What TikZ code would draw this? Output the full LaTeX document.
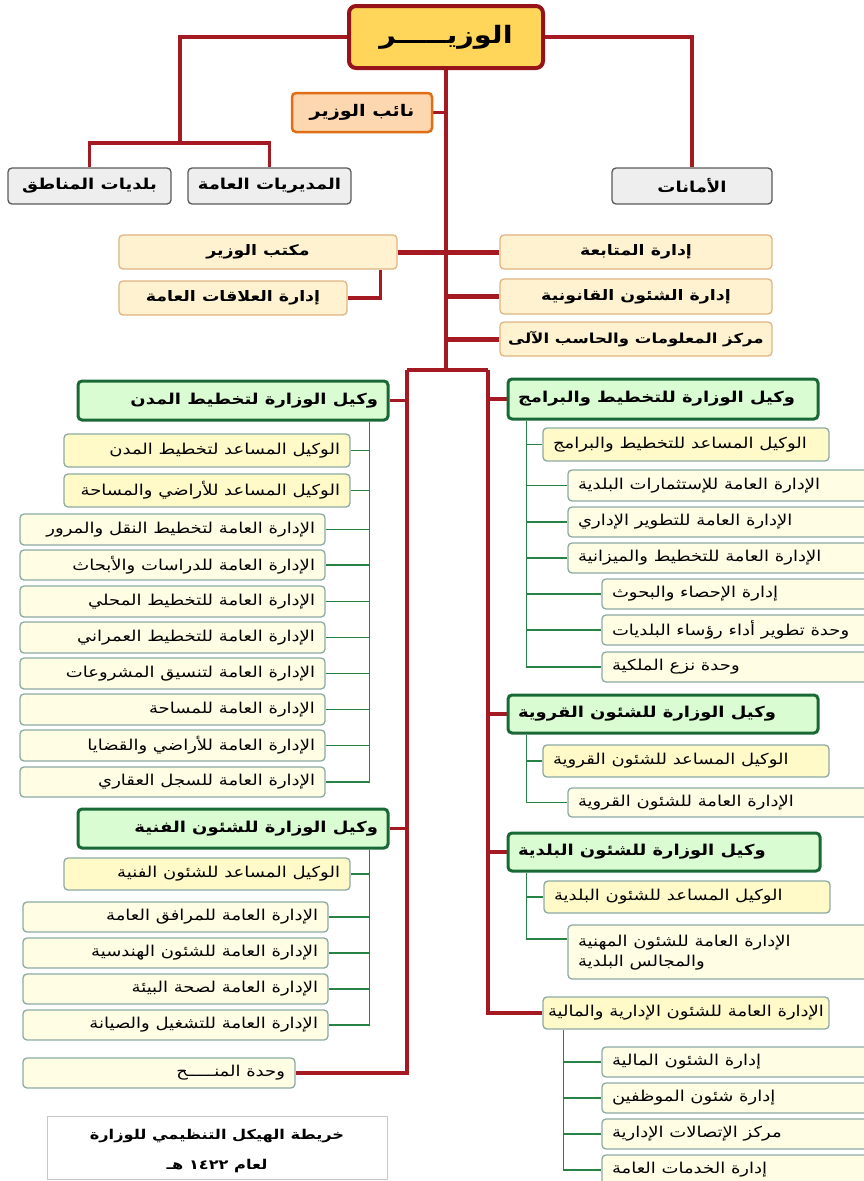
\documentclass[tikz,border=0pt]{standalone}
\usepackage{fontspec}
\newfontfamily\ar[Script=Arabic,FakeStretch=1.2]{DejaVu Sans}
\TeXXeTstate=1
\pgfdeclarelayer{bg}
\pgfsetlayers{bg,main}
\definecolor{redc}{RGB}{165,25,35}
\definecolor{wazfill}{RGB}{255,214,90}
\definecolor{wazdraw}{RGB}{150,20,25}
\definecolor{naibfill}{RGB}{252,215,175}
\definecolor{naibdraw}{RGB}{225,110,20}
\definecolor{grayfill}{RGB}{238,238,238}
\definecolor{graydraw}{RGB}{90,90,90}
\definecolor{offfill}{RGB}{255,242,208}
\definecolor{offdraw}{RGB}{225,180,130}
\definecolor{greenfill}{RGB}{218,252,210}
\definecolor{greendraw}{RGB}{25,105,55}
\definecolor{subfill}{RGB}{255,253,228}
\definecolor{yelfill}{RGB}{255,250,200}
\definecolor{subdraw}{RGB}{140,170,165}
\definecolor{grc}{RGB}{40,130,70}
% #1 style, #2 name, #3 x1, #4 y1, #5 x2, #6 y2, #7 align, #8 text
\newcommand\bx[8]{\node[#1, minimum width={(#5-#3)*1pt}, minimum height={(#6-#4)*1pt}] (#2) at ({(#3+#5)/2},{(#4+#6)/2}) {\makebox[\dimexpr#5pt-#3pt-20pt\relax][#7]{#8}};}
\tikzset{
  every node/.style={inner xsep=0pt, inner ysep=0pt},
  wazirbox/.style={draw=wazdraw, line width=4pt, fill=wazfill, rounded corners=7pt, font=\ar\bfseries\fontsize{24}{28}\selectfont},
  naibbox/.style={draw=naibdraw, line width=2.5pt, fill=naibfill, rounded corners=4pt, font=\ar\bfseries\fontsize{16}{18}\selectfont},
  graybox/.style={draw=graydraw, line width=1.3pt, fill=grayfill, rounded corners=4pt, font=\ar\bfseries\fontsize{15}{17}\selectfont},
  offbox/.style={draw=offdraw, line width=1.3pt, fill=offfill, rounded corners=4pt, font=\ar\bfseries\fontsize{14.5}{17}\selectfont},
  headbox/.style={draw=greendraw, line width=3pt, fill=greenfill, rounded corners=4pt, font=\ar\bfseries\fontsize{15}{17}\selectfont},
  yelbox/.style={draw=subdraw, line width=1.3pt, fill=yelfill, rounded corners=4pt, font=\ar\fontsize{15}{17}\selectfont},
  subbox/.style={draw=subdraw, line width=1.3pt, fill=subfill, rounded corners=4pt, font=\ar\fontsize{15}{17}\selectfont},
  capbox/.style={draw=black!22, line width=1pt, fill=white, font=\ar\bfseries\fontsize{13.5}{30}\selectfont},
  redl/.style={draw=redc, line width=3.5pt},
  redthick/.style={draw=redc, line width=5pt},
  grl/.style={draw=grc, line width=1.6pt},
}
\begin{document}
\begin{tikzpicture}[x=1pt,y=-1pt]
\useasboundingbox (0,0) rectangle (863,1181);
% top
\bx{wazirbox}{wz}{349}{6}{543}{68}{c}{\beginR الوزيـــــر\endR}
\bx{naibbox}{naib}{292}{93}{432}{132}{c}{\beginR نائب الوزير\endR}
\bx{graybox}{bal}{8}{168}{171}{204}{c}{\beginR بلديات المناطق\endR}
\bx{graybox}{mud}{188}{168}{351}{204}{c}{\beginR المديريات العامة\endR}
\bx{graybox}{amt}{612}{168}{772}{204}{c}{\beginR الأمانات\endR}
% offices
\bx{offbox}{mk}{119}{235}{397}{269}{c}{\beginR مكتب الوزير\endR}
\bx{offbox}{ala}{119}{281}{347}{315}{c}{\beginR إدارة العلاقات العامة\endR}
\bx{offbox}{mtb}{500}{235}{772}{269}{c}{\beginR إدارة المتابعة\endR}
\bx{offbox}{qan}{500}{279}{772}{314}{c}{\beginR إدارة الشئون القانونية\endR}
\bx{offbox, font=\ar\bfseries\fontsize{13.8}{17}\selectfont}{mrk}{500}{322}{772}{356}{c}{\beginR مركز المعلومات والحاسب الآلى\endR}
% left heads
\bx{headbox}{g1}{78}{381}{388}{420}{r}{\beginR وكيل الوزارة لتخطيط المدن\endR}
\bx{yelbox}{a1}{64}{434}{350}{467}{r}{\beginR الوكيل المساعد لتخطيط المدن\endR}
\bx{yelbox}{a2}{64}{474}{350}{507}{r}{\beginR الوكيل المساعد للأراضي والمساحة\endR}
\bx{subbox}{a3}{20}{514}{325}{545}{r}{\beginR الإدارة العامة لتخطيط النقل والمرور\endR}
\bx{subbox}{a4}{20}{550}{325}{580}{r}{\beginR الإدارة العامة للدراسات والأبحاث\endR}
\bx{subbox}{a5}{20}{586}{325}{617}{r}{\beginR الإدارة العامة للتخطيط المحلي\endR}
\bx{subbox}{a6}{20}{622}{325}{653}{r}{\beginR الإدارة العامة للتخطيط العمراني\endR}
\bx{subbox}{a7}{20}{658}{325}{689}{r}{\beginR الإدارة العامة لتنسيق المشروعات\endR}
\bx{subbox}{a8}{20}{694}{325}{725}{r}{\beginR الإدارة العامة للمساحة\endR}
\bx{subbox}{a9}{20}{730}{325}{761}{r}{\beginR الإدارة العامة للأراضي والقضايا\endR}
\bx{subbox}{a10}{20}{767}{325}{797}{r}{\beginR الإدارة العامة للسجل العقاري\endR}
\bx{headbox}{g2}{78}{809}{388}{848}{r}{\beginR وكيل الوزارة للشئون الفنية\endR}
\bx{yelbox}{b1}{64}{858}{350}{890}{r}{\beginR الوكيل المساعد للشئون الفنية\endR}
\bx{subbox}{b2}{23}{902}{328}{932}{r}{\beginR الإدارة العامة للمرافق العامة\endR}
\bx{subbox}{b3}{23}{938}{328}{968}{r}{\beginR الإدارة العامة للشئون الهندسية\endR}
\bx{subbox}{b4}{23}{974}{328}{1004}{r}{\beginR الإدارة العامة لصحة البيئة\endR}
\bx{subbox}{b5}{23}{1010}{328}{1040}{r}{\beginR الإدارة العامة للتشغيل والصيانة\endR}
\bx{subbox}{mnh}{23}{1058}{295}{1088}{r}{\beginR وحدة المنـــــح\endR}
\node[capbox, minimum width=340pt, minimum height=63pt] (cap) at (217,1148) {\begin{tabular}{@{}c@{}}\beginR خريطة الهيكل التنظيمي للوزارة\endR\\\beginR لعام \beginL١٤٢٢\endL{} هـ\endR\end{tabular}};
% right heads
\bx{headbox}{r1}{508}{379}{818}{419}{l}{\beginR وكيل الوزارة للتخطيط والبرامج\endR}
\bx{yelbox}{c1}{543}{428}{829}{461}{l}{\beginR الوكيل المساعد للتخطيط والبرامج\endR}
\bx{subbox}{c2}{568}{470}{885}{501}{l}{\beginR الإدارة العامة للإستثمارات البلدية\endR}
\bx{subbox}{c3}{568}{507}{885}{537}{l}{\beginR الإدارة العامة للتطوير الإداري\endR}
\bx{subbox}{c4}{568}{543}{885}{573}{l}{\beginR الإدارة العامة للتخطيط والميزانية\endR}
\bx{subbox}{c5}{602}{579}{885}{609}{l}{\beginR إدارة الإحصاء والبحوث\endR}
\bx{subbox}{c6}{602}{615}{885}{645}{l}{\beginR وحدة تطوير أداء رؤساء البلديات\endR}
\bx{subbox}{c7}{602}{652}{885}{682}{l}{\beginR وحدة نزع الملكية\endR}
\bx{headbox}{r2}{508}{695}{818}{733}{l}{\beginR وكيل الوزارة للشئون القروية\endR}
\bx{yelbox}{d1}{543}{745}{829}{777}{l}{\beginR الوكيل المساعد للشئون القروية\endR}
\bx{subbox}{d2}{568}{788}{885}{817}{l}{\beginR الإدارة العامة للشئون القروية\endR}
\bx{headbox}{r3}{508}{833}{820}{871}{l}{\beginR وكيل الوزارة للشئون البلدية\endR}
\bx{yelbox}{e1}{544}{881}{830}{913}{l}{\beginR الوكيل المساعد للشئون البلدية\endR}
\node[subbox, font=\ar\fontsize{15}{20}\selectfont, minimum width=317pt, minimum height=54pt] (e2) at (726.5,952) {\makebox[297pt][l]{\begin{tabular}{@{}l@{}}\beginR الإدارة العامة للشئون المهنية\endR\\\beginR والمجالس البلدية\endR\end{tabular}}};
\bx{yelbox}{idm}{543}{997}{829}{1029}{c}{\beginR الإدارة العامة للشئون الإدارية والمالية\endR}
\bx{subbox}{f1}{602}{1047}{885}{1077}{l}{\beginR إدارة الشئون المالية\endR}
\bx{subbox}{f2}{602}{1083}{885}{1113}{l}{\beginR إدارة شئون الموظفين\endR}
\bx{subbox}{f3}{602}{1119}{885}{1149}{l}{\beginR مركز الإتصالات الإدارية\endR}
\bx{subbox}{f4}{602}{1155}{885}{1185}{l}{\beginR إدارة الخدمات العامة\endR}
% connectors
\begin{pgfonlayer}{bg}
\coordinate (sj) at (wz.south |- 0,370);
\coordinate (lj) at (180,143);
\coordinate (sl) at (407,370);
\coordinate (sr) at (488,370);
\draw[redl] (wz.east) -| (amt.north);
\draw[redl] (wz.west) -| (lj);
\draw[redl] (bal.north) |- (lj) -| (mud.north);
\draw[redl] (wz.south) -- (sj);
\draw[redl] (naib.east) -- (naib.east -| wz.south);
\draw[redthick] (mk.east) -- (mtb.west);
\draw[redl] ([xshift=-17pt]mk.south east) |- (ala.east);
\draw[redthick] (qan.west) -- (qan.west -| wz.south);
\draw[redthick] (mrk.west) -- (mrk.west -| wz.south);
\draw[redl] (sl) -- (sr);
\draw[redl] (sl) |- (mnh.east);
\draw[redl] (sr) |- (idm.west);
\draw[redl] (g1.east) -- (g1.east -| sl);
\draw[redl] (g2.east) -- (g2.east -| sl);
\draw[redl] (r1.west) -- (r1.west -| sr);
\draw[redl] (r2.west) -- (r2.west -| sr);
\draw[redl] (r3.west) -- (r3.west -| sr);
% green left
\coordinate (g1b) at ([xshift=-20pt]g1.south east);
\draw[grl] (g1b) |- (a10.east);
\foreach \n in {a1,a2,a3,a4,a5,a6,a7,a8,a9} \draw[grl] (\n.east) -- (\n.east -| g1b);
\coordinate (g2b) at ([xshift=-20pt]g2.south east);
\draw[grl] (g2b) |- (b5.east);
\foreach \n in {b1,b2,b3,b4} \draw[grl] (\n.east) -- (\n.east -| g2b);
% green right
\coordinate (r1b) at ([xshift=20pt]r1.south west);
\draw[grl] (r1b) |- (c7.west);
\foreach \n in {c1,c2,c3,c4,c5,c6} \draw[grl] (\n.west) -- (\n.west -| r1b);
\coordinate (r2b) at ([xshift=20pt]r2.south west);
\draw[grl] (r2b) |- (d2.west);
\draw[grl] (d1.west) -- (d1.west -| r2b);
\coordinate (r3b) at ([xshift=20pt]r3.south west);
\draw[grl] (r3b) |- ([yshift=13pt]e2.west);
\draw[grl] (e1.west) -- (e1.west -| r3b);
\coordinate (idb) at ([xshift=21pt]idm.south west);
\draw[grl] (idb) |- (f4.west);
\foreach \n in {f1,f2,f3} \draw[grl] (\n.west) -- (\n.west -| idb);
\end{pgfonlayer}
\end{tikzpicture}
\end{document}
